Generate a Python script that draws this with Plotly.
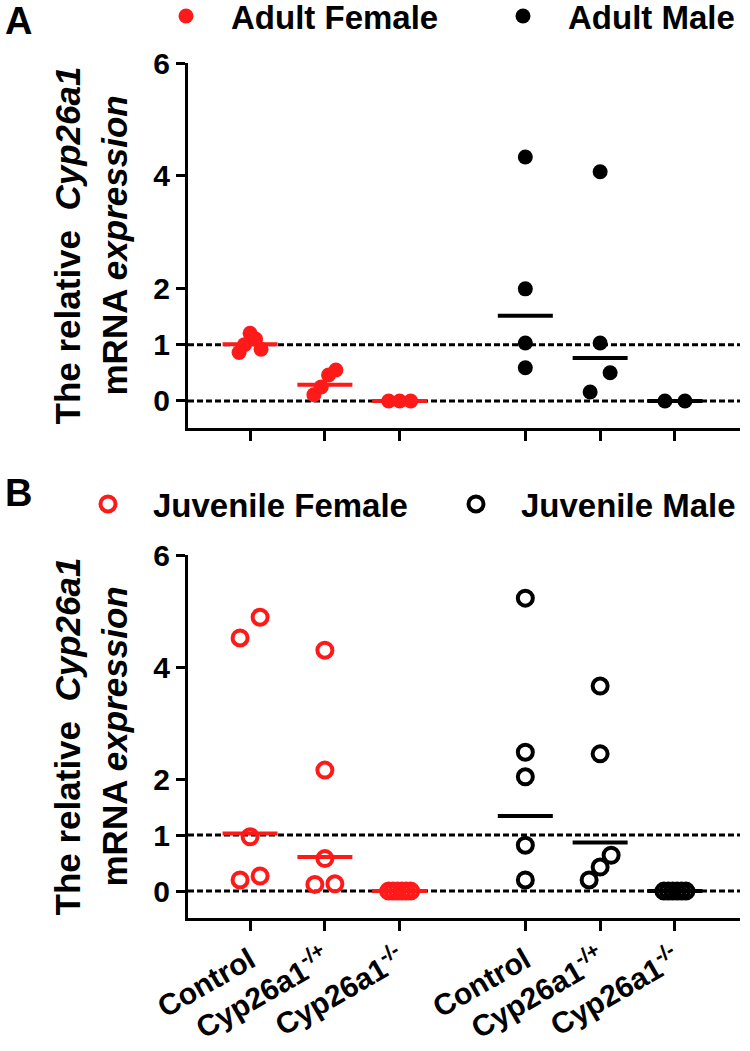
import numpy as np
import plotly.graph_objects as go

# genotype labels on the x axis
genotypes = ["Control", "Cyp26a1<sup>-/+</sup>", "Cyp26a1<sup>-/-</sup>"]

# panel A: adult, relative Cyp26a1 mRNA
adult_female_control = [1.20, 1.10, 1.00, 0.92, 0.86]
adult_female_het = [0.55, 0.46, 0.25, 0.11]
adult_female_ko = [0.0, 0.0, 0.0]
adult_male_control = [4.33, 1.99, 1.03, 0.59]
adult_male_het = [4.07, 1.03, 0.50, 0.16]
adult_male_ko = [0.0, 0.0]

# panel B: juvenile
juv_female_control = [4.89, 4.52, 0.97, 0.27, 0.20]
juv_female_het = [4.30, 2.16, 0.58, 0.13, 0.12]
juv_female_ko = [0.0, 0.0, 0.0, 0.0, 0.0, 0.0]
juv_male_control = [5.23, 2.48, 2.04, 0.82, 0.20]
juv_male_het = [3.66, 2.45, 0.64, 0.43, 0.20]
juv_male_ko = [0.0, 0.0, 0.0, 0.0, 0.0, 0.0]

RED = "#ff1a1a"
FONT = "Liberation Sans, Arial, sans-serif"
female_pos = [1.0, 2.0, 3.0]
male_pos = [4.68, 5.68, 6.68]
XR = [0.17, 7.55]
YR = [-0.48, 6.0]
H = 1051
L = 188
PW = 552
PX_X = PW / (XR[1] - XR[0])
PX_Y = 365 / (YR[1] - YR[0])


def px(x):
    return (x - L) / PW


def swarm(values, center):
    # GraphPad-like spreading of points that would overlap
    vals = np.sort(np.asarray(values, dtype=float))
    xs = np.full(len(vals), float(center))
    clusters, cur = [], [0]
    for i in range(1, len(vals)):
        if (vals[i] - vals[i - 1]) * PX_Y < 22:
            cur.append(i)
        else:
            clusters.append(cur)
            cur = [i]
    clusters.append(cur)
    for c in clusters:
        n = len(c)
        if n < 2:
            continue
        step = min(20.0, 22.0 / (n - 1))
        slots = [(k - (n - 1) / 2) * step for k in range(n)]
        if n > 4 and len(set(vals[c])) > 1:
            # centre-out for bigger clumps so they look like a blob
            slots = sorted(slots, key=lambda s: (abs(s), -s))
            order = c[::-1]
        else:
            order = c
        for s, i in zip(slots, order):
            xs[i] = center + s / PX_X
    return xs, vals


def add_series(fig, groups, positions, name, color, symbol, xa, ya, legend):
    xs, ys, lx, ly = [], [], [], []
    for vals, c in zip(groups, positions):
        sx, sy = swarm(vals, c)
        xs += list(sx)
        ys += list(sy)
        gm = float(np.prod(sy) ** (1.0 / len(sy)))  # geometric mean
        lx += [c - 27.5 / PX_X, c + 27.5 / PX_X, None]
        ly += [gm, gm, None]
    fig.add_trace(go.Scatter(x=lx, y=ly, mode="lines", line=dict(color=color, width=4),
                             xaxis=xa, yaxis=ya, showlegend=False, hoverinfo="skip"))
    if symbol == "circle":
        mk = dict(color=color, size=15, symbol="circle")
    else:
        mk = dict(color=color, size=15, symbol="circle-open", line=dict(color=color, width=4))
    fig.add_trace(go.Scatter(x=xs, y=ys, mode="markers", name=name, marker=mk,
                             xaxis=xa, yaxis=ya, legend=legend, showlegend=True))


fig = go.Figure()
add_series(fig, [adult_female_control, adult_female_het, adult_female_ko], female_pos,
           "Adult Female", RED, "circle", "x", "y", "legend")
add_series(fig, [adult_male_control, adult_male_het, adult_male_ko], male_pos,
           "Adult Male", "black", "circle", "x", "y", "legend2")
add_series(fig, [juv_female_control, juv_female_het, juv_female_ko], female_pos,
           "Juvenile Female", RED, "open", "x2", "y2", "legend3")
add_series(fig, [juv_male_control, juv_male_het, juv_male_ko], male_pos,
           "Juvenile Male", "black", "open", "x2", "y2", "legend4")

for ax in ["", "2"]:
    for yv in [0, 1]:
        fig.add_shape(type="line", xref=f"x{ax} domain", yref=f"y{ax}", x0=0, x1=1, y0=yv, y1=yv,
                      line=dict(color="black", width=3, dash="6px,3px"), layer="below")

xaxis_common = dict(range=XR, showline=True, linecolor="black", linewidth=3, ticks="outside",
                    ticklen=10, tickwidth=3, tickcolor="black", showgrid=False, zeroline=False,
                    tickvals=female_pos + male_pos, automargin=False)
yaxis_common = dict(range=YR, showline=True, linecolor="black", linewidth=3, ticks="outside",
                    ticklen=9, tickwidth=3, tickcolor="black", showgrid=False, zeroline=False,
                    tickvals=[0, 1, 2, 4, 6], automargin=False,
                    tickfont=dict(size=30, family=FONT, weight="bold"))

legend_font = dict(size=33, family=FONT, weight="bold")


def legend_at(sym_x, sym_y):
    return dict(orientation="h", x=px(sym_x - 49), y=1 - sym_y / H, xanchor="left",
                yanchor="middle", font=legend_font, bgcolor="rgba(0,0,0,0)", itemwidth=80)


fig.update_layout(
    width=750, height=H, margin=dict(l=L, r=750 - L - PW, t=0, b=0, autoexpand=False),
    plot_bgcolor="white", paper_bgcolor="white",
    font=dict(family=FONT, color="black", size=26, weight="bold"),
    xaxis=dict(xaxis_common, anchor="y", domain=[0, 1], showticklabels=False),
    yaxis=dict(yaxis_common, anchor="x", domain=[1 - 428 / H, 1 - 63 / H]),
    xaxis2=dict(xaxis_common, anchor="y2", domain=[0, 1], ticktext=genotypes * 2, tickangle=-30,
                tickfont=dict(size=30, family=FONT, weight="bold")),
    yaxis2=dict(yaxis_common, anchor="x2", domain=[1 - 918 / H, 1 - 555 / H]),
    legend=legend_at(190, 16),
    legend2=legend_at(527, 16),
    legend3=legend_at(112, 504),
    legend4=legend_at(480, 504),
)

# panel letters and y-axis titles
for letter, ypx in [("A", 21), ("B", 493)]:
    fig.add_annotation(text=letter, xref="paper", yref="paper", x=px(18), y=1 - ypx / H,
                       xanchor="center", yanchor="middle", showarrow=False,
                       font=dict(size=38, family=FONT, weight="bold"))
for top, bottom in [(63, 428), (555, 918)]:
    yc = 1 - (top + bottom) / 2 / H
    fig.add_annotation(text="The relative  <i>Cyp26a1</i>", xref="paper", yref="paper",
                       x=px(67), y=yc, xanchor="center", yanchor="middle", textangle=-90,
                       showarrow=False, font=dict(size=35, family=FONT, weight="bold"))
    fig.add_annotation(text="mRNA <i>expression</i>", xref="paper", yref="paper",
                       x=px(114), y=yc, xanchor="center", yanchor="middle", textangle=-90,
                       showarrow=False, font=dict(size=35, family=FONT, weight="bold"))

fig.write_html("out.html", config={"displayModeBar": False},
               post_script="document.body.style.margin='0px';")
